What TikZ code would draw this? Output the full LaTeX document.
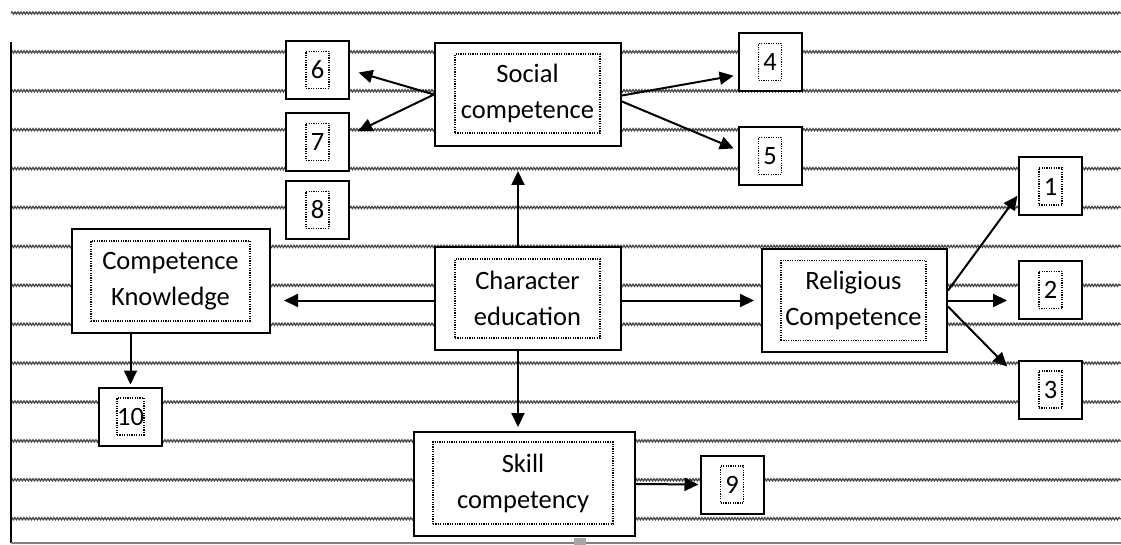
\documentclass[tikz,border=0pt]{standalone}
\usepackage{fontspec}
\setmainfont{Carlito}
\usepackage{tikz}
\usetikzlibrary{arrows.meta,decorations.pathmorphing,positioning,calc}

\tikzset{
  outer/.style={draw,fill=white,line width=2pt,inner sep=0pt},
  inner/.style={draw,dash pattern=on 1.2pt off 1.2pt,line width=1.3pt,inner sep=0pt,align=center,font=\fontsize{26.5}{36}\selectfont},
  small/.style={outer,minimum width=63pt,minimum height=58pt},
  smallin/.style={inner,minimum width=23pt,minimum height=37pt},
  arr/.style={-{Triangle[length=14pt,width=13pt]},line width=2pt},
  wavy/.style={black!70,line width=1.3pt,decorate,decoration={snake,segment length=3pt,amplitude=1.1pt}}
}

\begin{document}
\begin{tikzpicture}[x=1pt,y=-1pt]
  \useasboundingbox (0,0) rectangle (1121,545);
  % lined paper behind the boxes
  \foreach \k in {0,...,13}
    \draw[wavy] (11,13+38.9*\k) -- (1121,13+38.9*\k);
  \draw[line width=1.5pt] (11,42) -- (11,543);
  \draw[gray,line width=1.5pt] (11,543) -- (1121,543);
  \fill[gray!70] (574,538) rectangle (586,545);

  % main boxes
  \node (social) [outer,minimum width=186pt,minimum height=103pt] at (528,94.5) {};
  \node (socialIn) [inner,minimum width=145pt,minimum height=79pt] at (527.5,93.5) {Social\\competence};
  \node (char) [outer,minimum width=186pt,minimum height=103pt] at (528,298.5) {};
  \node (charIn) [inner,minimum width=145pt,minimum height=79pt] at (527.5,298.5) {Character\\education};
  \node (ck) [outer,minimum width=198pt,minimum height=104pt] at (171,281) {};
  \node (ckIn) [inner,minimum width=159pt,minimum height=80pt] at (170.5,281) {Competence\\Knowledge};
  \node (rel) [outer,minimum width=185pt,minimum height=103pt] at (854.5,300.5) {};
  \node (relIn) [inner,minimum width=145pt,minimum height=80pt] at (853.5,300.5) {Religious\\Competence};
  \node (skill) [outer,minimum width=221pt,minimum height=104pt] at (524.5,484) {};
  \node (skillIn) [inner,minimum width=180pt,minimum height=82pt] at (523,483) {Skill\\competency};

  % numbered boxes
  \foreach \n/\x/\y in {1/1050.5/186.5,2/1050.5/290,3/1050.5/389.5,4/770/62,5/770/156,
                        6/317.5/70,7/317.5/142,8/317.5/210,9/732/484.5,10/130.5/416.5}{
    \node (n\n) [small] at (\x,\y) {};
    \node (n\n in) [smallin] at (\x,\y) {\n};
  }

  \coordinate (charN) at ([xshift=-10pt]char.north);
  \coordinate (charS) at ([xshift=-10pt]char.south);
  \coordinate (socialS) at ([yshift=-24pt]social.south);
  \draw[arr,shorten >=9pt] (social.west) -- (n6.east);
  \draw[arr,shorten >=9pt] (social.west) -- ([yshift=7pt]n7.east);
  \draw[arr,shorten >=4pt] ([yshift=-1pt]social.east) -- ([yshift=-13pt]n4.west);
  \draw[arr,shorten >=4pt] ([yshift=-7pt]social.east) -- ([yshift=6pt]n5.west);
  \draw[arr] (charN) -- (charN |- socialS);
  \draw[arr,shorten >=13pt] (char.west |- rel.west) -- (ck.east |- rel.west);
  \draw[arr,shorten >=7pt] (char.east |- rel.west) -- (rel.west);
  \draw[arr,shorten >=1pt] ([yshift=10pt]rel.east) -- ([yshift=-8.5pt]n1.west);
  \draw[arr,shorten >=11pt] (rel.east) -- (rel.east -| n2.west);
  \draw[arr] ([yshift=-6pt]rel.east) -- ([xshift=-11pt,yshift=-7pt]n3.north west);
  \draw[arr,shorten >=2pt] (n10.north |- ck.south) -- (n10.north);
  \draw[arr,shorten >=4pt] (charS) -- (charS |- skill.north);
  \draw[arr,shorten >=1pt] (skill.east) -- (n9.west);
\end{tikzpicture}
\end{document}
